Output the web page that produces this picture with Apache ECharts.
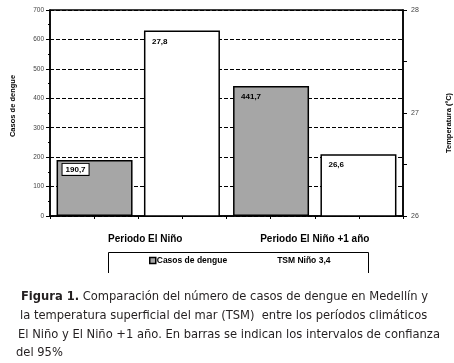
<!DOCTYPE html>
<html>
<head>
<meta charset="utf-8">
<script src="https://cdn.jsdelivr.net/npm/echarts@6/dist/echarts.min.js"></script>
<style>
html, body { margin: 0; padding: 0; background: #fff; }
#container { width: 454px; height: 363px; }
</style>
</head>
<body>
<div id="container"></div>
<script>
var periodos = ['Periodo El Niño', 'Periodo El Niño +1 año'];
var casosDengue = [190.7, 441.7];
var tsmNino = [27.8, 26.6];
var captionLines = [
	'{b|Figura 1.} Comparación del número de casos de dengue en Medellín y',
	'la temperatura superficial del mar (TSM)  entre los períodos climáticos',
	'El Niño y El Niño +1 año. En barras se indican los intervalos de confianza',
	'del 95%'
];

var myChart = echarts.init(document.getElementById('container'));
var fmt = function(p) { return String(p.value).replace('.', ','); };
var labelFont = 'Liberation Sans, Arial, sans-serif';
var capFont = 'Liberation Sans Narrow, DejaVu Sans Condensed, sans-serif';
var capX = [21, 20, 18, 16];
var capY = [297, 316, 335, 353];

var option = {
	animation: false,
	backgroundColor: '#fff',
	grid: {
		left: 50, right: 51, top: 10, bottom: 147,
		outerBoundsMode: 'none', containLabel: false,
		show: true, borderColor: '#000', borderWidth: 1.5, backgroundColor: 'transparent'
	},
	legend: {
		left: 149, top: 256, padding: 0,
		itemWidth: 6, itemHeight: 6, itemGap: 43,
		icon: 'rect',
		textStyle: { fontSize: 8.5, fontWeight: 'bold', color: '#000', fontFamily: labelFont, padding: [0, 0, 0, -4] },
		data: [
			{ name: 'Casos de dengue', itemStyle: { color: '#a6a6a6', borderColor: '#000', borderWidth: 1.5 } },
			{ name: 'TSM Niño 3,4', itemStyle: { color: '#fff', borderWidth: 0 } }
		]
	},
	xAxis: [
		{
			type: 'category', data: periodos, position: 'bottom',
			axisLine: { lineStyle: { color: '#000', width: 1.5 } },
			axisTick: { show: false },
			axisLabel: {
				margin: 18, fontSize: 10, fontWeight: 'bold', color: '#000', fontFamily: labelFont,
				formatter: function(v, i) { return i === 0 ? '{a|' + v + '}' : v; },
				rich: { a: { fontSize: 10, fontWeight: 'bold', color: '#000', fontFamily: labelFont, padding: [0, 0, 0, 14] } }
			}
		},
		{
			type: 'value', min: 0, max: 8, interval: 1, position: 'bottom',
			axisLine: { show: false },
			axisTick: { show: true, length: 3, lineStyle: { color: '#000', width: 1 } },
			axisLabel: { show: false },
			splitLine: { show: false }
		}
	],
	yAxis: [
		{
			type: 'value', min: 0, max: 700, interval: 100, position: 'left',
			name: 'Casos de dengue', nameLocation: 'middle', nameGap: 33, nameRotate: 90,
			nameTextStyle: { fontSize: 7.5, fontWeight: 'bold', color: '#000', fontFamily: labelFont, padding: [0, 0, 0, 14] },
			axisLine: { show: true, lineStyle: { color: '#000', width: 1.5 } },
			axisTick: { show: true, length: 4, lineStyle: { color: '#000' } },
			minorTick: { show: true, splitNumber: 2, length: 2, lineStyle: { color: '#000' } },
			axisLabel: { fontSize: 6.5, color: '#444', margin: 6, fontFamily: labelFont },
			splitLine: { show: true, lineStyle: { color: '#000', type: [4, 2], width: 1 } }
		},
		{
			type: 'value', min: 26, max: 28, interval: 0.5, position: 'right',
			name: 'Temperatura (ºC)', nameLocation: 'middle', nameGap: 42, nameRotate: 90,
			nameTextStyle: { fontSize: 7.5, fontWeight: 'bold', color: '#000', fontFamily: labelFont, padding: [0, 20, 0, 0] },
			axisLine: { show: true, lineStyle: { color: '#000', width: 1.5 } },
			axisTick: { show: true, length: 4, lineStyle: { color: '#000' } },
			axisLabel: {
				fontSize: 7, color: '#444', margin: 8, fontFamily: labelFont,
				formatter: function(v) { return v % 1 === 0 ? String(v) : ''; }
			},
			splitLine: { show: false }
		}
	],
	series: [
		{
			name: 'Casos de dengue', type: 'bar', xAxisIndex: 0, yAxisIndex: 0,
			barWidth: 76, barGap: '15%',
			itemStyle: { color: '#a6a6a6', borderColor: '#000', borderWidth: 1.5 },
			label: {
				show: true, position: 'insideTopLeft', offset: [3, 2], formatter: fmt,
				fontSize: 8, fontWeight: 'bold', color: '#000', fontFamily: labelFont
			},
			data: casosDengue.map(function(v, i) {
				if (i === 0) {
					return { value: v, label: { backgroundColor: '#fff', borderColor: '#000', borderWidth: 1, padding: [2, 3, 1, 3], offset: [1, -1] } };
				}
				return v;
			})
		},
		{
			name: 'TSM Niño 3,4', type: 'bar', xAxisIndex: 0, yAxisIndex: 1,
			barWidth: 76,
			itemStyle: { color: '#fff', borderColor: '#000', borderWidth: 1.5 },
			label: {
				show: true, position: 'insideTopLeft', offset: [3, 2], formatter: fmt,
				fontSize: 8, fontWeight: 'bold', color: '#000', fontFamily: labelFont
			},
			data: tsmNino
		}
	],
	graphic: [
		{
			type: 'polyline',
			shape: { points: [[108.5, 273], [108.5, 252.5], [368.5, 252.5], [368.5, 273]] },
			style: { stroke: '#000', lineWidth: 1, fill: null }
		}
	].concat(captionLines.map(function(line, i) {
		return {
			type: 'text', x: capX[i], y: capY[i],
			style: {
				text: line, fontSize: 12.8, fill: '#231f20', fontFamily: capFont, verticalAlign: 'middle',
				rich: { b: { fontSize: 12.8, fontWeight: 'bold', fill: '#231f20', fontFamily: capFont } }
			}
		};
	}))
};
myChart.setOption(option);
</script>
</body>
</html>
